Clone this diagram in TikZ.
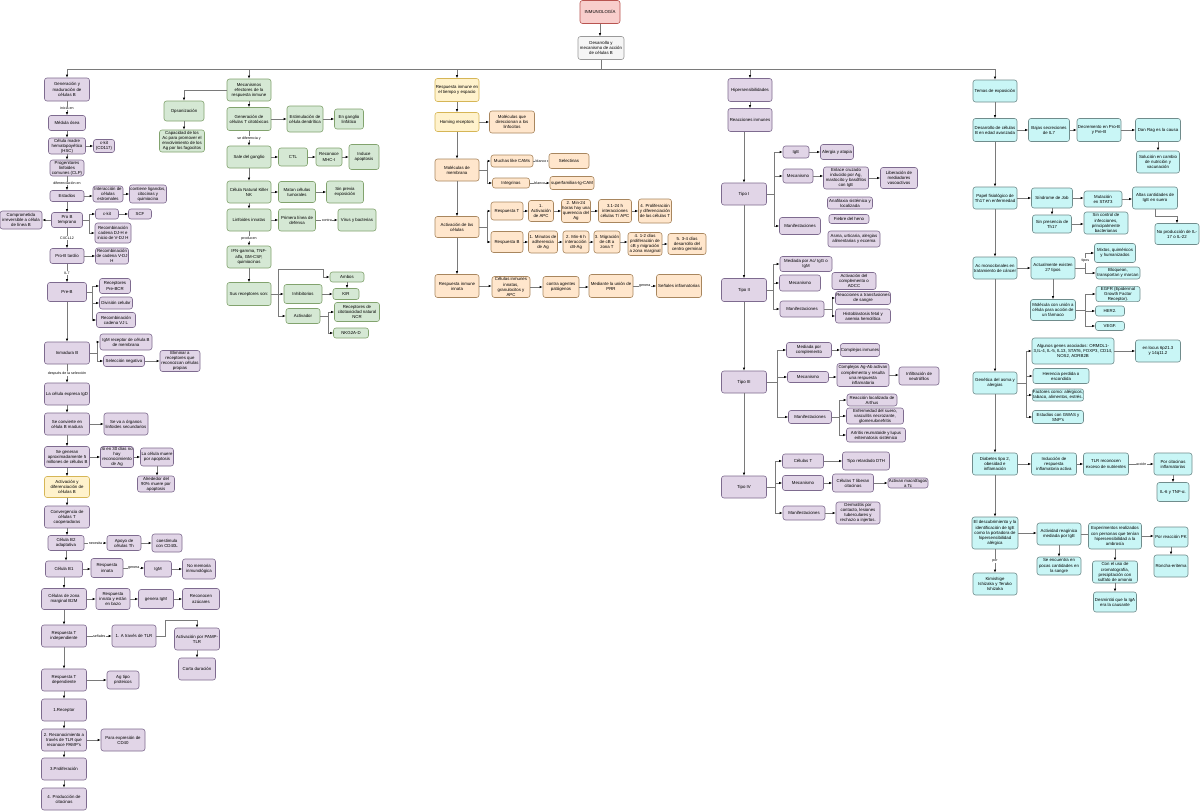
\documentclass[tikz,border=0pt]{standalone}
\usepackage{fontspec}
\setmainfont{Liberation Sans}
\usetikzlibrary{arrows.meta}
\definecolor{puF}{HTML}{E1D5E7}\definecolor{puD}{HTML}{7E6B8F}
\definecolor{grF}{HTML}{D5E8D4}\definecolor{grD}{HTML}{82A36E}
\definecolor{ogF}{HTML}{FFE6CC}\definecolor{ogD}{HTML}{A8865E}
\definecolor{yeF}{HTML}{FFF2CC}\definecolor{yeD}{HTML}{D6B656}
\definecolor{cyF}{HTML}{C9F6F6}\definecolor{cyD}{HTML}{708C8C}
\definecolor{rdF}{HTML}{F8CECC}\definecolor{rdD}{HTML}{B85450}
\definecolor{gyF}{HTML}{F5F5F5}\definecolor{gyD}{HTML}{999999}
\definecolor{edg}{HTML}{7A7A7A}
\newcommand\edV[2]{\draw[arr] (#1.south) -- (#1.south|-#2.north);}
\newcommand\edVl[3]{\draw[arr] (#1.south) -- node[lb]{#3} (#1.south|-#2.north);}
\newcommand\edH[2]{\draw[arr] (#1.east) -- (#2.west|-#1.east);}
\newcommand\edHl[3]{\draw[arr] (#1.east) -- node[lb]{#3} (#2.west|-#1.east);}
\begin{document}
\begin{tikzpicture}[x=1pt,y=-1pt,
  base/.style={draw, rounded corners=2.5pt, line width=0.6pt, align=center, inner sep=0.5pt, font=\fontsize{4.35}{5.1}\selectfont},
  pu/.style={base, fill=puF, draw=puD},
  gr/.style={base, fill=grF, draw=grD},
  og/.style={base, fill=ogF, draw=ogD},
  ye/.style={base, fill=yeF, draw=yeD},
  cy/.style={base, fill=cyF, draw=cyD},
  rd/.style={base, fill=rdF, draw=rdD},
  gy/.style={base, fill=gyF, draw=gyD},
  sz/.style 2 args={minimum width=#1pt, minimum height=#2pt},
  lnn/.style={draw=edg, line width=0.6pt},
  arr/.style={lnn, -{Latex[length=3pt,width=2.4pt,color=black]}},
  lb/.style={fill=white, inner sep=0.4pt, font=\fontsize{3.6}{4}\selectfont}]
\useasboundingbox (0,0) rectangle (1200,811);
\fill[white] (0,0) rectangle (1200,811);

% ---------- top ----------
\node[rd,sz={40}{23}] (inm) at (600,12) {INMUNOLOGÍA};
\node[gy,sz={46}{23}] (des) at (601,48) {Desarrollo y\\mecanismo de acción\\de células B};
\coordinate (bus) at (0,69);
\draw[arr] (inm) -- (inm|-des.north);
\draw[lnn] (des.south) -- (des.south|-bus);
\draw[lnn] (67,69) -- (995,69);

% ---------- left column (purple) ----------
\node[pu,sz={45}{23}] (gen) at (67,89.5) {Generación y\\maduración de\\células B};
\node[pu,sz={37}{15}] (med) at (67,123) {Médula ósea};
\node[pu,sz={37}{16}] (hsc) at (67,146) {Célula madre\\hematopoyética\\(HSC)};
\node[pu,sz={21}{13}] (ckit1) at (104,146) {c-kit\\(CD117)};
\node[pu,sz={34}{16}] (clp) at (67,168) {Progenitores\\linfoides\\comunes (CLP)};
\node[pu,sz={34}{11}] (est) at (67,196) {Estadios};
\node[pu,sz={30}{16}] (inter) at (108,194) {Interacción de\\células\\estromales};
\node[pu,sz={37}{18}] (cont) at (148,194) {contiene ligandos,\\citocinas y\\quimiocina};
\node[pu,sz={31}{15}] (prob) at (67,220) {Pro B\\temprano};
\node[pu,sz={42}{18}] (comp) at (21,220) {Comprometida\\irreversible a célula\\de línea B};
\node[pu,sz={23}{10}] (ckit2) at (107,214) {c-kit};
\node[pu,sz={23}{10}] (scf) at (140,214) {SCF};
\node[pu,sz={36}{20}] (rdj) at (113,233) {Recombinación\\cadena DJ-H e\\inicio de V-DJ H};
\node[pu,sz={34}{15}] (protar) at (67,256) {Pro-B tardío};
\node[pu,sz={33}{16}] (rvdj) at (112,256) {Recombinación\\de cadena V-DJ\\H};
\node[pu,sz={39}{19}] (preb) at (67,292) {Pre-B};
\node[pu,sz={31}{15}] (pbcr) at (115,286) {Receptores\\Pre-BCR};
\node[pu,sz={33}{12}] (divc) at (116,303) {División celular};
\node[pu,sz={39}{15}] (rvjl) at (116,320) {Recombinación\\cadena VJ L};
\node[pu,sz={45}{22}] (inmb) at (67,353) {Inmadura B};
\node[pu,sz={52}{16}] (igmr) at (126,342) {IgM receptor de célula B\\de membrana};
\node[pu,sz={41}{11}] (selneg) at (124,361) {Selección negativa};
\node[pu,sz={40}{21}] (elim) at (180,361) {Eliminar a\\receptores que\\reconozcan células\\propias};
\node[pu,sz={45}{22}] (igd) at (67,394) {La célula expresa IgD};
\node[pu,sz={45}{22}] (madura) at (67,424) {Se convierte en\\célula B madura};
\node[pu,sz={44}{22}] (seva) at (126,424) {Se va a órganos\\linfoides secundarios};
\node[pu,sz={45}{21}] (gen5) at (67,457) {Se generan\\aproximadamente 5\\millones de células B};
\node[pu,sz={33}{21}] (si30) at (117,457) {Si en 30 días no\\hay\\reconocimiento\\de Ag};
\node[pu,sz={33}{18}] (muere) at (157,457) {La célula muere\\por apoptosis};
\node[pu,sz={37}{16}] (al90) at (156,484) {Alrededor del\\90\% muere por\\apoptosis};
\node[ye,sz={45}{21}] (act) at (67,487) {Activación y\\diferenciación de\\células B};
\node[pu,sz={45}{22}] (conv) at (67,517) {Convergencia de\\células T\\cooperadoras};
\node[pu,sz={36}{15}] (b2) at (66,543) {Célula B2\\adaptativa};
\node[pu,sz={34}{15}] (apoyo) at (124,543) {Apoyo de\\células Th};
\node[pu,sz={30}{18}] (coest) at (167,543) {coestimula\\con CD40L};
\node[pu,sz={37}{16}] (b1) at (64,569) {Célula B1};
\node[pu,sz={32}{19}] (rinn) at (107,568) {Respuesta\\innata};
\node[pu,sz={27}{16}] (igm2) at (158,569) {IgM};
\node[pu,sz={33}{20}] (nomem) at (199,569) {No memoria\\inmunológica};
\node[pu,sz={45}{21}] (b2m) at (64,599) {Células de zona\\marginal B2M};
\node[pu,sz={34}{21}] (rinnb) at (113,599) {Respuesta\\innata y están\\en bazo};
\node[pu,sz={35}{19}] (genigm) at (156,599) {genera IgM};
\node[pu,sz={37}{21}] (azuc) at (201,599) {Reconocen\\azúcares};
\node[pu,sz={45}{22}] (tind) at (64,636) {Respuesta T\\independiente};
\node[pu,sz={44}{22}] (tlr) at (134,636) {1. A través de TLR};
\node[pu,sz={45}{22}] (pamp) at (197,639) {Activación por PAMP-\\TLR};
\node[pu,sz={37}{22}] (corta) at (197,669) {Corta duración};
\node[pu,sz={45}{22}] (tdep) at (64,680) {Respuesta T\\dependiente};
\node[pu,sz={32}{18}] (agt) at (123,680) {Ag tipo\\proteicos};
\node[pu,sz={45}{22}] (rec1) at (64,710) {1.Receptor};
\node[pu,sz={45}{22}] (rec2) at (64,740) {2. Reconocimiento a\\través de TLR que\\reconoce PAMP's};
\node[pu,sz={44}{22}] (cd40) at (123,740) {Para expresión de\\CD40};
\node[pu,sz={45}{22}] (prol) at (64,769) {3.Proliferación};
\node[pu,sz={45}{22}] (citoc) at (64,799) {4. Producción de\\citocinas};

\draw[arr] (gen.north|-bus) -- (gen.north);
\edVl{gen}{med}{inicia en}
\edV{med}{hsc}
\edH{hsc}{ckit1}
\edV{hsc}{clp}
\edVl{clp}{est}{diferenciación en}
\edH{est}{inter}
\edH{inter}{cont}
\edV{est}{prob}
\draw[arr] (prob.west) -- (comp.east|-prob.west);
\draw[arr] (prob.east) -- ++(6,0) |- (ckit2.west);
\draw[arr] (prob.east) -- ++(6,0) |- (rdj.west);
\edH{ckit2}{scf}
\edVl{prob}{protar}{CXCL12}
\edH{protar}{rvdj}
\edVl{protar}{preb}{IL7}
\draw[arr] (preb.east) -- ++(5,0) |- (pbcr.west);
\draw[arr] (preb.east) -- ++(5,0) |- (divc.west);
\draw[arr] (preb.east) -- ++(5,0) |- (rvjl.west);
\edV{preb}{inmb}
\draw[arr] (inmb.east) -- ++(7,0) |- (igmr.west);
\draw[arr] (inmb.east) -- ++(7,0) |- (selneg.west);
\edH{selneg}{elim}
\edVl{inmb}{igd}{después de la selección}
\edV{igd}{madura}
\edH{madura}{seva}
\edV{madura}{gen5}
\edH{gen5}{si30}
\edH{si30}{muere}
\edV{muere}{al90}
\edV{gen5}{act}
\edV{act}{conv}
\edV{conv}{b2}
\edHl{b2}{apoyo}{necesita}
\edH{apoyo}{coest}
\edV{b2}{b1}
\edH{b1}{rinn}
\edHl{rinn}{igm2}{genera}
\edH{igm2}{nomem}
\edV{b1}{b2m}
\edH{b2m}{rinnb}
\edH{rinnb}{genigm}
\edH{genigm}{azuc}
\edV{b2m}{tind}
\edHl{tind}{tlr}{señales}
\draw[arr] (tlr.east) -- ++(9,0) -- ++(0,-16) -| (pamp.north);
\edV{pamp}{corta}
\edV{tind}{tdep}
\edH{tdep}{agt}
\edV{tdep}{rec1}
\edV{rec1}{rec2}
\edH{rec2}{cd40}
\edV{rec2}{prol}
\edV{prol}{citoc}

% ---------- green column ----------
\node[gr,sz={44}{22}] (mec) at (249,90) {Mecanismos\\efectores de la\\respuesta inmune};
\node[gr,sz={40}{20}] (ops) at (184,111) {Opsonización};
\node[gr,sz={45}{22}] (capac) at (182,141) {Capacidad de los\\Ac para promover el\\envolvimiento de los\\Ag por los fagocitos};
\node[gr,sz={44}{23}] (gtc) at (249,119) {Generación  de\\células T citotóxicas};
\node[gr,sz={36}{26}] (estim) at (305,119) {Estimulación de\\célula dendrítica};
\node[gr,sz={29}{20}] (gang) at (349,119) {En ganglio\\linfático};
\node[gr,sz={44}{22}] (sale) at (249,157) {Sale del ganglio};
\node[gr,sz={29}{18}] (ctl) at (293,157) {CTL};
\node[gr,sz={26}{18}] (mhc) at (329,157) {Reconoce\\MHC-I};
\node[gr,sz={30}{25}] (induce) at (364,157) {Induce\\apoptosis};
\node[gr,sz={44}{22}] (nk) at (249,192) {Célula Natural Killer\\NK};
\node[gr,sz={37}{21}] (matan) at (297,192) {Matan células\\tumorales};
\node[gr,sz={37}{22}] (sinprev) at (345,192) {Sin previa\\exposición};
\node[gr,sz={44}{22}] (linf) at (249,220) {Linfoides innatas};
\node[gr,sz={37}{22}] (prim) at (297,220) {Primera línea de\\defensa};
\node[gr,sz={38}{22}] (virus) at (357,220) {Virus y bacterias};
\node[gr,sz={44}{22}] (ifn) at (249,257) {IFN-gamma, TNF-\\alfa, GM-CSF,\\quimiocinas};
\node[gr,sz={44}{23}] (susr) at (249,294) {Sus receptores son:};
\node[gr,sz={38}{19}] (inhib) at (303,294) {Inhibitorios};
\node[gr,sz={34}{10}] (ambos) at (347,277) {Ambos};
\node[gr,sz={26}{11}] (kir) at (346,294) {KIR};
\node[gr,sz={34}{15}] (activ) at (303,316) {Activador};
\node[gr,sz={45}{19}] (ncr) at (357,312) {Receptores de\\citotoxicidad natural\\NCR};
\node[gr,sz={35}{10}] (nkg) at (351,333) {NKG2A-D};

\draw[arr] (mec.north|-bus) -- (mec.north);
\draw[arr] (mec.west) -| (ops.north);
\edV{ops}{capac}
\edV{mec}{gtc}
\edH{gtc}{estim}
\edH{estim}{gang}
\edVl{gtc}{sale}{se diferencia y}
\edH{sale}{ctl}
\edH{ctl}{mhc}
\edH{mhc}{induce}
\edV{sale}{nk}
\edH{nk}{matan}
\edH{matan}{sinprev}
\edV{nk}{linf}
\edH{linf}{prim}
\edHl{prim}{virus}{contra}
\edVl{linf}{ifn}{producen}
\edV{ifn}{susr}
\edH{susr}{inhib}
\draw[arr] (susr.east) -- ++(7,0) -- ++(0,-25) -- ++(45,0) |- (ambos.west);
\draw[arr] (susr.east) -- ++(7,0) |- (activ.west);
\edH{inhib}{kir}
\edV{ambos}{kir}
\draw[arr] (activ.east) -- ++(8,0) |- (ncr.west);
\draw[arr] (activ.east) -- ++(8,0) |- (nkg.west);

% ---------- orange column ----------
\node[ye,sz={44}{23}] (rtie) at (457,90) {Respuesta inmune en\\el tiempo y espacio};
\node[ye,sz={44}{19}] (homing) at (457,122) {Homing receptors};
\node[og,sz={45}{22}] (mdir) at (512,122) {Moléculas que\\direccionan a los\\linfocitos};
\node[og,sz={44}{22}] (mmem) at (457,170) {Moléculas de\\membrana};
\node[og,sz={42}{12}] (cams) at (512,161) {Muchas like CAMs};
\node[og,sz={40}{15}] (selec) at (569,161) {Selectinas};
\node[og,sz={37}{10}] (integ) at (511,183) {Integrinas};
\node[og,sz={44}{13}] (igcam) at (572,183) {superfamilias-Ig-CAM};
\node[og,sz={44}{21}] (actc) at (457,227) {Activación de las\\células};
\node[og,sz={32}{18}] (respt) at (507,211) {Respuesta T};
\node[og,sz={25}{21}] (t1) at (541,211) {1.\\Activación\\de APC};
\node[og,sz={29}{23}] (t2) at (576,211) {2. Min-24\\horas hay una\\querencia del\\Ag};
\node[og,sz={33}{23}] (t3) at (615,211) {3.1-24 h\\interacciones\\células T/ APC};
\node[og,sz={33}{24}] (t4) at (655,211) {4. Proliferación\\y diferenciación\\de las células T};
\node[og,sz={32}{21}] (respb) at (507,242) {Respuesta B};
\node[og,sz={29}{22}] (bm1) at (543,242) {1. Minutos de\\adherencia\\de Ag};
\node[og,sz={26}{22}] (bm2) at (576,242) {2. Min-6 h\\interacción\\cB-Ag};
\node[og,sz={26}{22}] (bm3) at (607,242) {3. Migración\\de cB a\\zona T};
\node[og,sz={34}{23}] (bm4) at (645,244) {4. 1-2 días\\proliferación de\\cB y migración\\a zona marginal};
\node[og,sz={38}{21}] (bm5) at (687,244) {5.  3-4 días\\desarrollo del\\centro germinal};
\node[og,sz={44}{23}] (rinnata) at (457,286) {Respuesta inmune\\innata};
\node[og,sz={38}{21}] (cinn) at (511,287) {Células inmunes\\innatas,\\granulocitos y\\APC};
\node[og,sz={36}{21}] (contra) at (561,287) {contra agentes\\patógenos};
\node[og,sz={44}{23}] (prr) at (611,286) {Mediante la unión de\\PRR};
\node[og,sz={45}{23}] (senal) at (679,286) {Señales inflamatorias};

\draw[arr] (rtie.north|-bus) -- (rtie.north);
\edV{rtie}{homing}
\edH{homing}{mdir}
\edV{homing}{mmem}
\draw[arr] (mmem.east) -- ++(8,0) |- (cams.west);
\draw[arr] (mmem.east) -- ++(8,0) |- (integ.west);
\edHl{cams}{selec}{blanco}
\edHl{integ}{igcam}{blanco}
\edV{mmem}{actc}
\draw[arr] (actc.east) -- ++(8,0) |- (respt.west);
\draw[arr] (actc.east) -- ++(8,0) |- (respb.west);
\edH{respt}{t1}
\edH{t1}{t2}
\edH{t2}{t3}
\edH{t3}{t4}
\edH{respb}{bm1}
\edH{bm1}{bm2}
\edH{bm2}{bm3}
\edH{bm3}{bm4}
\edH{bm4}{bm5}
\edV{actc}{rinnata}
\edH{rinnata}{cinn}
\edH{cinn}{contra}
\edH{contra}{prr}
\edHl{prr}{senal}{genera}

% ---------- hypersensitivity column ----------
\node[pu,sz={44}{23}] (hip) at (750,90) {Hipersensibilidades};
\node[pu,sz={44}{23}] (reac) at (750,120) {Reacciones inmunes};
\node[pu,sz={45}{22}] (tA) at (744,194) {Tipo I};
\node[pu,sz={26}{12}] (ige) at (796,152) {IgE};
\node[pu,sz={33}{15}] (alerg) at (837,152) {Alergia y atopia};
\node[pu,sz={30}{14}] (mecA) at (798,176) {Mecanismo};
\node[pu,sz={45}{22}] (enl) at (846,178) {Enlace cruzado\\inducido por Ag,\\mastocito y basófilos\\con IgE};
\node[pu,sz={37}{21}] (libm) at (899,178) {Liberación de\\mediadores\\vasoactivos};
\node[pu,sz={45}{12}] (anaf) at (850,203) {Anafilaxia sistémica y\\localizada};
\node[pu,sz={40}{9}] (fiebre) at (849,219) {Fiebre del heno};
\node[pu,sz={52}{16}] (asma) at (854,239) {Asma, urticaria, alergias\\alimentarias y eccema};
\node[pu,sz={41}{17}] (manA) at (800,226) {Manifestaciones};

\node[pu,sz={45}{23}] (tB) at (744,290) {Tipo II};
\node[pu,sz={52}{15}] (medac) at (806,264) {Mediada por Ac/ IgG o\\IgM};
\node[pu,sz={41}{16}] (mecB) at (800,283) {Mecanismo};
\node[pu,sz={44}{17}] (actcomp) at (854,281) {Activación del\\complemento o\\ADCC};
\node[pu,sz={44}{16}] (manB) at (802,309) {Manifestaciones};
\node[pu,sz={55}{13}] (transf) at (863,298) {Reacciones  a transfusiones\\de sangre};
\node[pu,sz={55}{14}] (hist) at (863,316) {Histoblastosis fetal y\\anemia hemolítica};

\node[pu,sz={45}{22}] (tC) at (744,382) {Tipo III};
\node[pu,sz={45}{15}] (medcomp) at (809,350) {Mediada por\\complemento};
\node[pu,sz={38}{13}] (compinm) at (860,350) {Complejos inmunes};
\node[pu,sz={41}{11}] (mecC) at (808,377) {Mecanismo};
\node[pu,sz={52}{23}] (cagab) at (863,375) {Complejos Ag-Ab activan\\complemento y resulta\\una respuesta\\inflamatoria};
\node[pu,sz={40}{18}] (infil) at (919,376) {Infiltración de\\neutrófilos};
\node[pu,sz={43}{13}] (manC) at (810,417) {Manifestaciones};
\node[pu,sz={50}{12}] (arth) at (872,400) {Reacción localizada de\\Arthus};
\node[pu,sz={57}{16}] (enfs) at (875,416) {Enfermedad del suero,\\vasculitis necrozante,\\glomerulonefritis};
\node[pu,sz={59}{14}] (artr) at (876,435) {Artritis reumatoide y lupus\\eritematosis sistémico};

\node[pu,sz={45}{22}] (tD) at (744,487) {Tipo IV};
\node[pu,sz={41}{14}] (celt) at (803,461) {Células T};
\node[pu,sz={47}{18}] (dth) at (866,461) {Tipo retardado DTH};
\node[pu,sz={41}{15}] (mecD) at (803,483) {Mecanismo};
\node[pu,sz={41}{18}] (libcit) at (853,483) {Células T liberan\\citocinas};
\node[pu,sz={40}{10}] (macro) at (908,483) {Activan macrófagos\\a Tc};
\node[pu,sz={42}{14}] (manD) at (804,513) {Manifestaciones};
\node[pu,sz={44}{22}] (derm) at (858,513) {Dermatitis por\\contacto, lesiones\\tuberculares y\\rechazo a injertos.};

\draw[arr] (hip.north|-bus) -- (hip.north);
\edV{hip}{reac}
\draw[arr] (tA.north|-reac.south) -- (tA.north);
\draw[arr] (tA.east) -- ++(7,0) |- (ige.west);
\draw[arr] (tA.east) -- ++(7,0) |- (mecA.west);
\draw[arr] (tA.east) -- ++(7,0) |- (manA.west);
\edH{ige}{alerg}
\edH{mecA}{enl}
\edH{enl}{libm}
\edV{tA}{tB}
\draw[arr] (tB.east) -- ++(6,0) |- (medac.west);
\draw[arr] (tB.east) -- ++(6,0) |- (mecB.west);
\draw[arr] (tB.east) -- ++(6,0) |- (manB.west);
\draw[arr] (manB.east) -- ++(8,0) |- (transf.west);
\draw[arr] (manB.east) -- ++(8,0) |- (hist.west);
\edV{tB}{tC}
\draw[arr] (tC.east) -- ++(10,0) |- (medcomp.west);
\draw[arr] (tC.east) -- ++(10,0) |- (mecC.west);
\draw[arr] (tC.east) -- ++(10,0) |- (manC.west);
\edH{medcomp}{compinm}
\edH{mecC}{cagab}
\edH{cagab}{infil}
\draw[arr] (manC.east) -- ++(7,0) |- (arth.west);
\draw[arr] (manC.east) -- ++(7,0) |- (enfs.west);
\draw[arr] (manC.east) -- ++(7,0) |- (artr.west);
\edV{tC}{tD}
\draw[arr] (tD.east) -- ++(8,0) |- (celt.west);
\draw[arr] (tD.east) -- ++(8,0) |- (mecD.west);
\draw[arr] (tD.east) -- ++(8,0) |- (manD.west);
\edH{celt}{dth}
\edH{mecD}{libcit}
\edH{libcit}{macro}
\edH{manD}{derm}

% ---------- cyan column ----------
\node[cy,sz={44}{22}] (temas) at (995,91) {Temas de exposición};
\node[cy,sz={44}{23}] (desB) at (995,130) {Desarrollo de células\\B en edad avanzada};
\node[cy,sz={41}{23}] (bajas) at (1049,130) {Bajas secreciones\\de IL7};
\node[cy,sz={44}{23}] (decr) at (1099,130) {Decremento en Pro-B\\y Pre-B};
\node[cy,sz={45}{23}] (rag) at (1158,130) {Dan Rag es la causa};
\node[cy,sz={43}{22}] (soluc) at (1158,162) {Solución en cambio\\de nutrición y\\vacunación};
\node[cy,sz={44}{22}] (papel) at (995,198) {Papel fisiológico de\\Th17 en enfermedad};
\node[cy,sz={41}{20}] (job) at (1052,198) {Síndrome de Job};
\node[cy,sz={38}{16}] (mut) at (1103,199) {Mutación\\en STAT3};
\node[cy,sz={45}{22}] (altas) at (1155,198) {Altas cantidades de\\IgE en suero};
\node[cy,sz={39}{18}] (sinth) at (1052,224) {Sin presencia de\\Th17};
\node[cy,sz={44}{22}] (sinc) at (1106,223) {Sin control de\\infecciones,\\principalmente\\bacterianas};
\node[cy,sz={44}{21}] (noprod) at (1177,234) {No producción de IL-\\17 o IL-22};
\node[cy,sz={44}{22}] (acmono) at (995,268) {Ac monoclonales en\\tratamiento de cáncer};
\node[cy,sz={44}{22}] (act27) at (1053,268) {Actualmente existen\\27 tipos};
\node[cy,sz={41}{19}] (mixtos) at (1115,253) {Mixtos, quiméricos\\y humanizados};
\node[cy,sz={44}{12}] (bloq) at (1118,273) {Bloquean,\\transportan y marcan};
\node[cy,sz={45}{21}] (molec) at (1053,310) {Molécula con unión a\\célula para acción de\\un fármaco};
\node[cy,sz={44}{15}] (egfr) at (1118,294) {EGFR (Epidermal\\Growth Factor\\Receptor).};
\node[cy,sz={29}{10}] (her2) at (1110,311) {HER2.};
\node[cy,sz={29}{9}] (vegf) at (1110,326) {VEGF.};
\node[cy,sz={44}{22}] (genet) at (995,383) {Genética del asma y\\alergias};
\node[cy,sz={82}{26}] (genes) at (1073,351) {Algunos genes asociados: ORMDL1-\\3,IL-4, IL-5, IL13, STAT6, FOXP3, CD14,\\NOS2, ADRB2B};
\node[cy,sz={45}{22}] (locus) at (1158,351) {en locus 6p21.3\\y 14q11.2};
\node[cy,sz={56}{15}] (heren) at (1061,376) {Herencia perdida o\\escondida};
\node[cy,sz={50}{12}] (factor) at (1058,395) {Factores como: alérgicos,\\tabaco, alimentos, estrés.};
\node[cy,sz={51}{13}] (gwas) at (1058,417) {Estudios con GWAS y\\SNP's};
\node[cy,sz={45}{22}] (diab) at (995,464) {Diabetes tipo 2,\\obesidad e\\inflamación};
\node[cy,sz={45}{22}] (induc) at (1054,464) {Inducción de\\respuesta\\inflamatoria activa};
\node[cy,sz={45}{22}] (tlrn) at (1106,464) {TLR reconocen\\exceso de nutrientes};
\node[cy,sz={38}{22}] (porcit) at (1173,464) {Por citocinas\\inflamatorias};
\node[cy,sz={32}{19}] (il6) at (1173,492) {IL-6 y TNF-α.};
\node[cy,sz={46}{32}] (descub) at (995,533) {El descubrimiento y la\\identificación de IgE\\como la portadora de\\hipersensibilidad\\alérgica};
\node[cy,sz={44}{22}] (kimi) at (995,584) {Kimishige\\Ishizaka y Teruko\\Ishizaka};
\node[cy,sz={44}{22}] (activr) at (1059,534) {Actividad reagínica\\mediada por IgE};
\node[cy,sz={44}{18}] (seenc) at (1059,566) {Se encuentra en\\pocas cantidades en\\la sangre};
\node[cy,sz={53}{26}] (exper) at (1115,536) {Experimentos realizados\\con personas que tenían\\hipersensibilidad a la\\ambrosía};
\node[cy,sz={45}{22}] (cromat) at (1115,572) {Con el uso de\\cromatografía,\\precipitación con\\sulfato de amonio};
\node[cy,sz={43}{20}] (desm) at (1115,602) {Desmintió que la IgA\\era la causante};
\node[cy,sz={34}{20}] (pk) at (1171,537) {Por reacción PK};
\node[cy,sz={34}{22}] (roncha) at (1171,566) {Roncha-eritema};

\draw[arr] (temas.north|-bus) -- (temas.north);
\edV{temas}{desB}
\edH{desB}{bajas}
\edH{bajas}{decr}
\edH{decr}{rag}
\edV{rag}{soluc}
\edV{desB}{papel}
\edH{papel}{job}
\edH{job}{mut}
\edH{mut}{altas}
\edV{job}{sinth}
\edH{sinth}{sinc}
\draw[arr] (altas.south) -- ++(0,7) -| (noprod.north);
\edV{papel}{acmono}
\edH{acmono}{act27}
\draw[arr] (act27.east) -- ++(10,0) |- node[lb,pos=0.25]{tipos} (mixtos.west);
\draw[arr] (act27.east) -- ++(10,0) |- (bloq.west);
\edV{act27}{molec}
\draw[arr] (molec.east) -- ++(9,0) |- (egfr.west);
\draw[arr] (molec.east) -- ++(9,0) |- (her2.west);
\draw[arr] (molec.east) -- ++(9,0) |- (vegf.west);
\edV{acmono}{genet}
\draw[arr] (genet.east) -- ++(9,0) |- (genes.west);
\draw[arr] (genet.east) -- ++(9,0) |- (heren.west);
\draw[arr] (genet.east) -- ++(9,0) |- (factor.west);
\draw[arr] (genet.east) -- ++(9,0) |- (gwas.west);
\edH{genes}{locus}
\edV{genet}{diab}
\edH{diab}{induc}
\edH{induc}{tlrn}
\edHl{tlrn}{porcit}{acción}
\edV{porcit}{il6}
\edV{diab}{descub}
\edVl{descub}{kimi}{por}
\edH{descub}{activr}
\edV{activr}{seenc}
\draw[lnn] (activr.east) -- (exper.west|-activr.east);
\edV{exper}{cromat}
\edV{cromat}{desm}
\edH{exper}{pk}
\edV{pk}{roncha}
\end{tikzpicture}
\end{document}
